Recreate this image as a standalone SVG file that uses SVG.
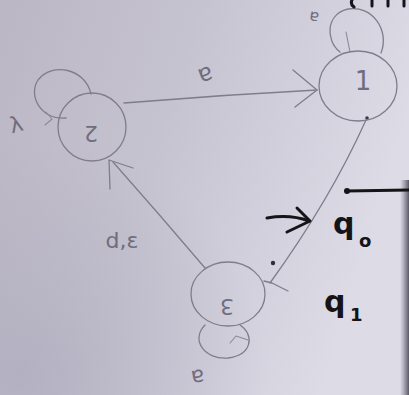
<svg xmlns="http://www.w3.org/2000/svg" width="409" height="395" viewBox="0 0 409 395">
  <defs>
    <linearGradient id="paper" x1="0" y1="0" x2="1" y2="0.3">
      <stop offset="0" stop-color="#bbb6c3"/>
      <stop offset="0.45" stop-color="#c6c3d0"/>
      <stop offset="1" stop-color="#dcdbe6"/>
    </linearGradient>
    <radialGradient id="shade" cx="0.05" cy="0.95" r="0.6">
      <stop offset="0" stop-color="#a9a7ba" stop-opacity="0.6"/>
      <stop offset="1" stop-color="#a9a7ba" stop-opacity="0"/>
    </radialGradient>
    <linearGradient id="edgeShadow" x1="0" y1="0" x2="1" y2="0">
      <stop offset="0" stop-color="#5a5866" stop-opacity="0"/>
      <stop offset="1" stop-color="#3a3844" stop-opacity="0.8"/>
    </linearGradient>
  </defs>
  <style>
    .pencil { fill: none; stroke: #7f7d8d; stroke-width: 1.3; stroke-linecap: round; stroke-linejoin: round; }
    .faint { stroke: #8c8a99; stroke-width: 1.1; }
    .ink { fill: none; stroke: #151419; stroke-width: 3; stroke-linecap: round; stroke-linejoin: round; }
    .lbl { font-family: "DejaVu Sans", "Liberation Sans", sans-serif; fill: #6f6d7e; }
    .note { font-family: "DejaVu Sans", "Liberation Sans", sans-serif; fill: #141318; font-weight: bold; }
  </style>

  <!-- paper -->
  <rect width="409" height="395" fill="url(#paper)"/>
  <rect width="409" height="395" fill="url(#shade)"/>
  <rect x="400" y="180" width="9" height="215" fill="url(#edgeShadow)"/>

  <!-- connectors -->
  <g id="connectors">
    <!-- left to top-right -->
    <path class="pencil" d="M124,103 Q220,95 317,90"/>
    <path class="pencil" d="M293,70 L317,90 L295,107"/>
    <!-- top-right down to bottom -->
    <path class="pencil" d="M366,120 Q330,200 270,283"/>
    <path class="pencil" d="M264,281 L272,283 L288,291"/>
    <circle cx="367" cy="118" r="1.8" fill="#3d3b48"/>
    <circle cx="273" cy="263" r="2.2" fill="#2f2d38"/>
    <!-- bottom to left -->
    <path class="pencil" d="M205,268 Q160,215 113,162"/>
    <path class="pencil" d="M110,189 L109,160 L133,168"/>
    <!-- self loops -->
    <path class="pencil" d="M66,118 C40,120 28,95 38,80 C52,62 85,68 91,94"/>
    <path class="pencil faint" d="M45,125 L52,119 L46,112"/>
    <path class="pencil" d="M340,52 C325,40 326,14 348,9 C372,5 390,30 381,53"/>
    <path class="pencil faint" d="M346,32 L350,52"/>
    <path class="pencil" d="M205,325 C190,340 205,360 228,358 C252,355 255,335 240,325"/>
    <path class="pencil faint" d="M230,343 L236,336 L248,340"/>
  </g>

  <!-- nodes -->
  <g id="node-left">
    <circle class="pencil" cx="92" cy="127" r="34"/>
    <text class="lbl" x="91" y="126" font-size="22" text-anchor="middle" transform="rotate(180 91 126)">2</text>
  </g>
  <g id="node-top">
    <ellipse class="pencil" cx="358" cy="86" rx="39" ry="35"/>
    <text class="lbl" x="363" y="90" font-size="26" text-anchor="middle" fill="#55535f">1</text>
  </g>
  <g id="node-bottom">
    <ellipse class="pencil" cx="228" cy="294" rx="37" ry="32"/>
    <text class="lbl" x="227" y="287" font-size="22" text-anchor="middle" transform="rotate(180 227 293)">3</text>
  </g>

  <!-- edge labels -->
  <g id="labels">
    <text class="lbl" x="203" y="68" font-size="24" text-anchor="middle" transform="rotate(160 203 68)">a</text>
    <text class="lbl" x="17" y="132" font-size="22" text-anchor="middle" transform="rotate(-15 17 128)">λ</text>
    <text class="lbl" x="314" y="24" font-size="16" text-anchor="middle" transform="rotate(190 314 18)">a</text>
    <text class="lbl" x="122" y="248" font-size="22" text-anchor="middle">d,ɛ</text>
    <text class="lbl" x="198" y="386" font-size="22" text-anchor="middle" transform="rotate(170 198 378)">a</text>
  </g>

  <!-- marker notes -->
  <g id="notes">
    <path class="ink" d="M346,191 L409,190"/>
    <circle cx="347" cy="191" r="3" fill="#141318"/>
    <path class="ink" d="M267,218 Q290,214 309,221" stroke-width="2.4"/>
    <path class="ink" d="M297,208 L310,221 L287,232" stroke-width="2.4"/>
    <text class="note" x="333" y="234" font-size="30">q</text>
    <text class="note" x="359" y="247" font-size="18">o</text>
    <text class="note" x="324" y="312" font-size="30">q</text>
    <text class="note" x="350" y="321" font-size="18">1</text>
    <path class="ink" d="M352,0 Q350,4 354,7 M372,0 L372,6 M388,0 L388,6 M404,0 L404,6" stroke-width="2.5"/>
  </g>
</svg>
